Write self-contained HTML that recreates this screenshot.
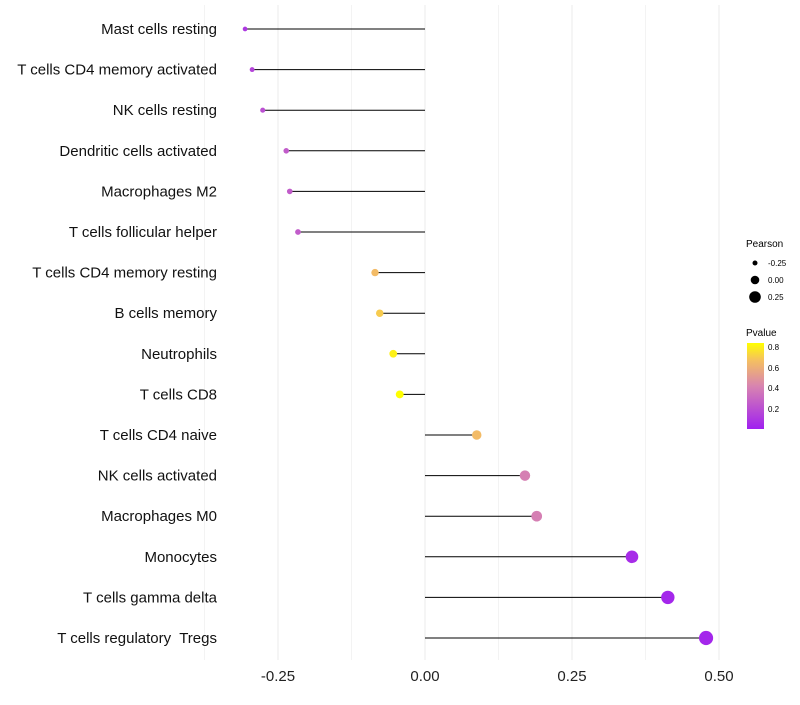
<!DOCTYPE html>
<html><head><meta charset="utf-8"><style>
body{margin:0;background:#fff;font-family:"Liberation Sans",sans-serif}
</style></head><body>
<svg id="c" width="800" height="700" xmlns="http://www.w3.org/2000/svg" style="font-family:'Liberation Sans',sans-serif">
<defs><linearGradient id="pg" x1="0" y1="1" x2="0" y2="0">
<stop offset="0" stop-color="#A020F0"/><stop offset="0.5" stop-color="#D884B0"/><stop offset="0.8" stop-color="#F5C060"/><stop offset="1" stop-color="#FFFF00"/></linearGradient></defs>
<g id="grid"></g><g id="marks"></g><g id="labels"></g>
<g>
<text x="746" y="247" font-size="10">Pearson</text>
<circle cx="755" cy="263" r="2.5" fill="#000"/>
<text x="768" y="266" font-size="8">-0.25</text>
<circle cx="755" cy="280" r="4.3" fill="#000"/>
<text x="768" y="283" font-size="8">0.00</text>
<circle cx="755" cy="297" r="5.8" fill="#000"/>
<text x="768" y="300" font-size="8">0.25</text>
<text x="746" y="336" font-size="10">Pvalue</text>
<rect x="747" y="343" width="17" height="86" fill="url(#pg)"/>
<text x="768" y="350" font-size="8">0.8</text>
<text x="768" y="371" font-size="8">0.6</text>
<text x="768" y="391" font-size="8">0.4</text>
<text x="768" y="412" font-size="8">0.2</text>
</g>
</svg>
<script>
const categories=["Mast cells resting","T cells CD4 memory activated","NK cells resting","Dendritic cells activated","Macrophages M2","T cells follicular helper","T cells CD4 memory resting","B cells memory","Neutrophils","T cells CD8","T cells CD4 naive","NK cells activated","Macrophages M0","Monocytes","T cells gamma delta","T cells regulatory  Tregs"];
const pearson=[-0.306,-0.294,-0.276,-0.236,-0.230,-0.216,-0.085,-0.077,-0.054,-0.043,0.088,0.170,0.190,0.352,0.413,0.478];
const pvalues=[0.10,0.15,0.2,0.25,0.25,0.25,0.65,0.7,0.8,0.84,0.65,0.4,0.4,0.05,0.03,0.03];
const xTicks=[-0.25,0,0.25,0.5];
const xTickLabels=["-0.25","0.00","0.25","0.50"];
const X=v=>425+v*588;
const Y=i=>29+i*40.6;
const R=v=>4.2+6*v;
const NS="http://www.w3.org/2000/svg";
function mk(t,a,p){const e=document.createElementNS(NS,t);for(const k in a)e.setAttribute(k,a[k]);p.appendChild(e);return e;}
function lerp(a,b,t){return a.map((x,i)=>Math.round(x+(b[i]-x)*t));}
function col(p){const stops=[[0,[160,32,240]],[0.42,[216,132,176]],[0.67,[245,192,96]],[0.84,[255,255,0]]];
 if(p<=0)return `rgb(${stops[0][1]})`;
 for(let i=1;i<stops.length;i++){if(p<=stops[i][0]){const t=(p-stops[i-1][0])/(stops[i][0]-stops[i-1][0]);return `rgb(${lerp(stops[i-1][1],stops[i][1],t)})`;}}
 return 'rgb(255,255,0)';}
const g=document.getElementById('grid'),m=document.getElementById('marks'),l=document.getElementById('labels');
for(let k=-0.375;k<=0.5;k+=0.125){
 let e=mk('line',{x1:X(k),x2:X(k),y1:5,y2:660,stroke:'#ebebeb','stroke-width':Math.abs(k*8%2)>0.01?0.6:1},g);
 
 
}
xTicks.forEach((t,i)=>{
 let e=mk('text',{x:X(t),y:681,'font-size':15,'text-anchor':'middle',fill:'#222'},l);e.textContent=xTickLabels[i];
 
 
});
categories.forEach((c,i)=>{
 let t=mk('text',{x:217,y:Y(i)+5,'font-size':15,'text-anchor':'end',fill:'#111',style:'white-space:pre'},l);t.textContent=c;
 
 
 let ln=mk('line',{x1:X(0),x2:X(pearson[i]),y1:Y(i),y2:Y(i),stroke:'#000','stroke-width':1},m);
 
 
 let ci=mk('circle',{cx:X(pearson[i]),cy:Y(i),r:R(pearson[i]),fill:col(pvalues[i])},m);
 
 
});
</script>
</body></html>
